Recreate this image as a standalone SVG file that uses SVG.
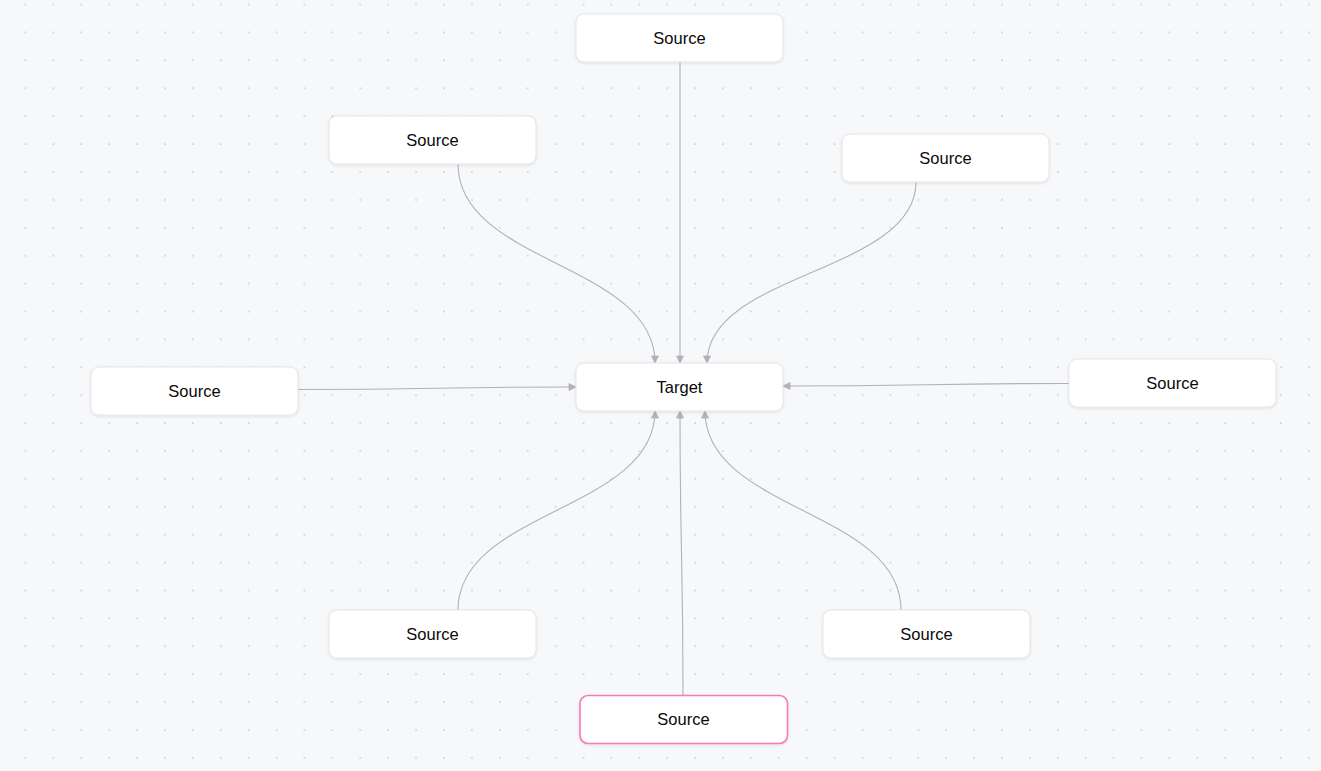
<svg xmlns="http://www.w3.org/2000/svg" width="1321" height="771" viewBox="0 0 1321 771">
  <style>
    .node rect { fill: #ffffff; stroke: #e4e5e8; stroke-width: 1; filter: url(#shadow); }
    .node.sel rect { stroke: #f47cb6; stroke-width: 1.6; }
    .node text { font-family: "Liberation Sans", Arial, sans-serif; font-size: 16.5px; fill: #0a0a0a; text-anchor: middle; }
    .edge { fill: none; stroke: #b1b1b7; stroke-width: 1.1; marker-end: url(#arrow); }
  </style>
  <defs>
    <pattern id="dots" patternUnits="userSpaceOnUse" x="11.55" y="-9.45" width="27.9" height="27.9">
      <circle cx="13.95" cy="13.95" r="0.85" fill="#bcbfc6"/>
    </pattern>
    <marker id="arrow" markerUnits="userSpaceOnUse" viewBox="-8 -5 10 10" markerWidth="10" markerHeight="10" refX="0" refY="0" orient="auto">
      <path d="M-7,-3.5 L0,0 L-7,3.5 Z" fill="#b1b1b7" stroke="#b1b1b7" stroke-width="0.8" stroke-linejoin="round"/>
    </marker>
    <filter id="shadow" x="-10%" y="-30%" width="120%" height="160%">
      <feDropShadow dx="0" dy="1" stdDeviation="1.5" flood-color="#000000" flood-opacity="0.1"/>
    </filter>
  </defs>
  <rect x="0" y="0" width="1321" height="771" fill="#f7f8fa"/>
  <rect x="0" y="0" width="1321" height="771" fill="url(#dots)"/>

  <g id="edges">
    <path class="edge" d="M680,62 L680,363"/>
    <path class="edge" d="M458,164 C458,263.5 655,263.5 655,363"/>
    <path class="edge" d="M916,182 C916,272.5 707,272.5 707,363"/>
    <path class="edge" d="M298,389.5 C437,389.5 437,387 576,387"/>
    <path class="edge" d="M1069,383.5 C926,383.5 926,386 783,386"/>
    <path class="edge" d="M458,610 C458,510.5 655,510.5 655,411"/>
    <path class="edge" d="M683,695 C683,553 680,553 680,411"/>
    <path class="edge" d="M901,610 C901,510.5 705,510.5 705,411"/>
  </g>

  <g id="node-top" class="node">
    <rect x="576" y="14" width="207" height="48" rx="8"/>
    <text x="679.5" y="43.8">Source</text>
  </g>
  <g id="node-upper-left" class="node">
    <rect x="329" y="116" width="207" height="48" rx="8"/>
    <text x="432.5" y="145.8">Source</text>
  </g>
  <g id="node-upper-right" class="node">
    <rect x="842" y="134" width="207" height="48" rx="8"/>
    <text x="945.5" y="163.8">Source</text>
  </g>
  <g id="node-left" class="node">
    <rect x="91" y="367" width="207" height="48" rx="8"/>
    <text x="194.5" y="396.8">Source</text>
  </g>
  <g id="node-right" class="node">
    <rect x="1069" y="359" width="207" height="48" rx="8"/>
    <text x="1172.5" y="388.8">Source</text>
  </g>
  <g id="node-target" class="node">
    <rect x="576" y="363" width="207" height="48" rx="8"/>
    <text x="679.5" y="392.8">Target</text>
  </g>
  <g id="node-bottom-left" class="node">
    <rect x="329" y="610" width="207" height="48" rx="8"/>
    <text x="432.5" y="639.8">Source</text>
  </g>
  <g id="node-bottom-right" class="node">
    <rect x="823" y="610" width="207" height="48" rx="8"/>
    <text x="926.5" y="639.8">Source</text>
  </g>
  <g id="node-bottom" class="node sel">
    <rect x="580" y="695.5" width="207.5" height="48" rx="8"/>
    <text x="683.5" y="725.3">Source</text>
  </g>
</svg>
